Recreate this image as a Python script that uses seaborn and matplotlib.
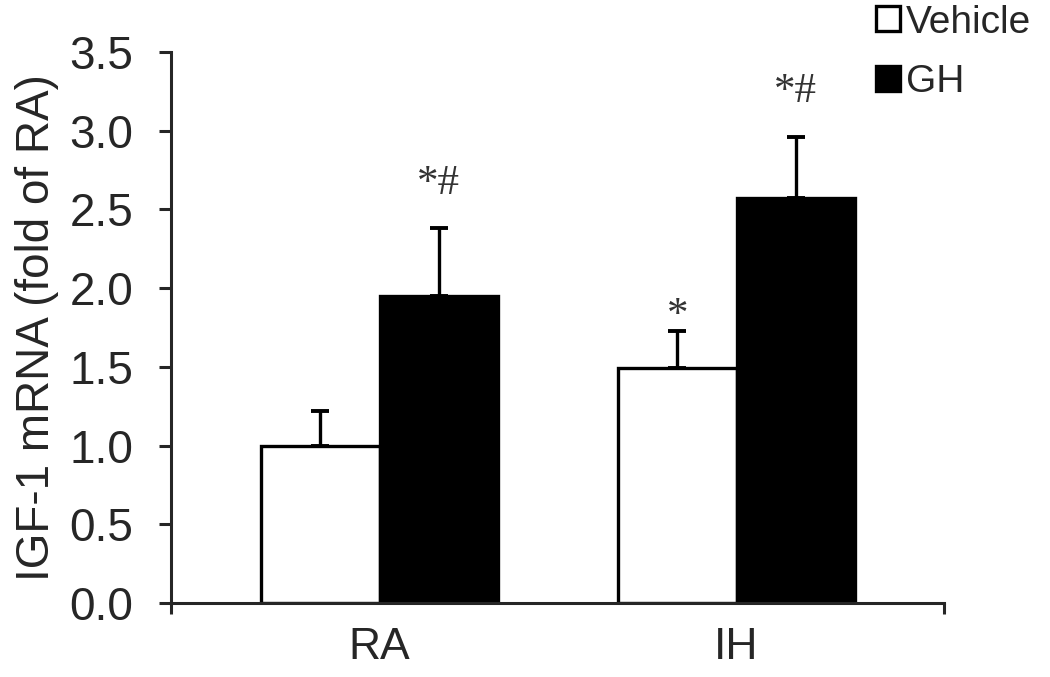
import matplotlib
matplotlib.use("Agg")
import matplotlib.pyplot as plt
import pandas as pd
import seaborn as sns
from matplotlib.patches import Patch

groups = ["RA", "IH"]
treatments = ["Vehicle", "GH"]
vehicle_mean = [1.00, 1.49]
gh_mean = [1.95, 2.57]
vehicle_err = [0.22, 0.24]
gh_err = [0.43, 0.39]
vehicle_sig = ["", "*"]
gh_sig = ["*#", "*#"]

ylabel = "IGF-1 mRNA (fold of RA)"


def main():
    sns.set_style("ticks")
    plt.rcParams["font.family"] = ["Liberation Sans", "DejaVu Sans"]

    data = pd.DataFrame({
        "Group": groups * 2,
        "Treatment": [treatments[0]] * 2 + [treatments[1]] * 2,
        "Value": vehicle_mean + gh_mean,
    })

    fig = plt.figure(figsize=(10.5, 6.77), dpi=100)
    ax = fig.add_axes([0.1629, 0.1093, 0.7362, 0.8139])

    sns.barplot(data=data, x="Group", y="Value", hue="Treatment",
                order=groups, hue_order=treatments,
                palette=["white", "black"], edgecolor="black",
                linewidth=2.4, width=0.664, errorbar=None,
                legend=False, ax=ax)

    errs = [vehicle_err, gh_err]
    sigs = [vehicle_sig, gh_sig]
    sig_pad = {"*": 0.03, "*#": 0.22}
    for container, err, sig in zip(ax.containers, errs, sigs):
        xs = [p.get_x() + p.get_width() / 2 for p in container]
        tops = [p.get_height() for p in container]
        ax.errorbar(xs, tops, yerr=[[0] * len(err), err], fmt="none",
                    ecolor="black", elinewidth=2.4, capsize=6.5,
                    capthick=2.8, zorder=1)
        for x, t, e, s in zip(xs, tops, err, sig):
            if s:
                ax.text(x, t + e + sig_pad[s], s, ha="center",
                        va="baseline", fontsize=31, color="#333333",
                        family="Liberation Serif")

    ax.set_ylim(0, 3.5)
    ax.set_yticks([i * 0.5 for i in range(8)])
    ax.set_yticklabels([f"{i * 0.5:.1f}" for i in range(8)])
    ax.set_xlim(-0.584, 1.581)
    ax.set_xticks([0, 1])
    ax.set_xticks([-0.584, 1.581], minor=True)
    ax.tick_params(axis="x", which="major", length=0, labelsize=32, pad=17)
    ax.tick_params(axis="x", which="minor", length=8, width=2.2,
                   direction="out")
    ax.tick_params(axis="y", length=9, width=2.2, labelsize=33, pad=18)
    ax.set_xlabel("")
    ax.set_ylabel(ylabel, fontsize=33, labelpad=8)
    for side in ["top", "right"]:
        ax.spines[side].set_visible(False)
    for side in ["left", "bottom"]:
        ax.spines[side].set_linewidth(2.2)

    handles = [Patch(facecolor="white", edgecolor="black", linewidth=2.4),
               Patch(facecolor="black", edgecolor="black", linewidth=2.4)]
    fig.legend(handles, treatments, loc="upper right",
               bbox_to_anchor=(1.015, 1.045), frameon=False, fontsize=28,
               handlelength=0.6, handleheight=0.6, handletextpad=0.15,
               labelspacing=0.6)

    fig.savefig("out.png", dpi=100)


if __name__ == "__main__":
    main()
